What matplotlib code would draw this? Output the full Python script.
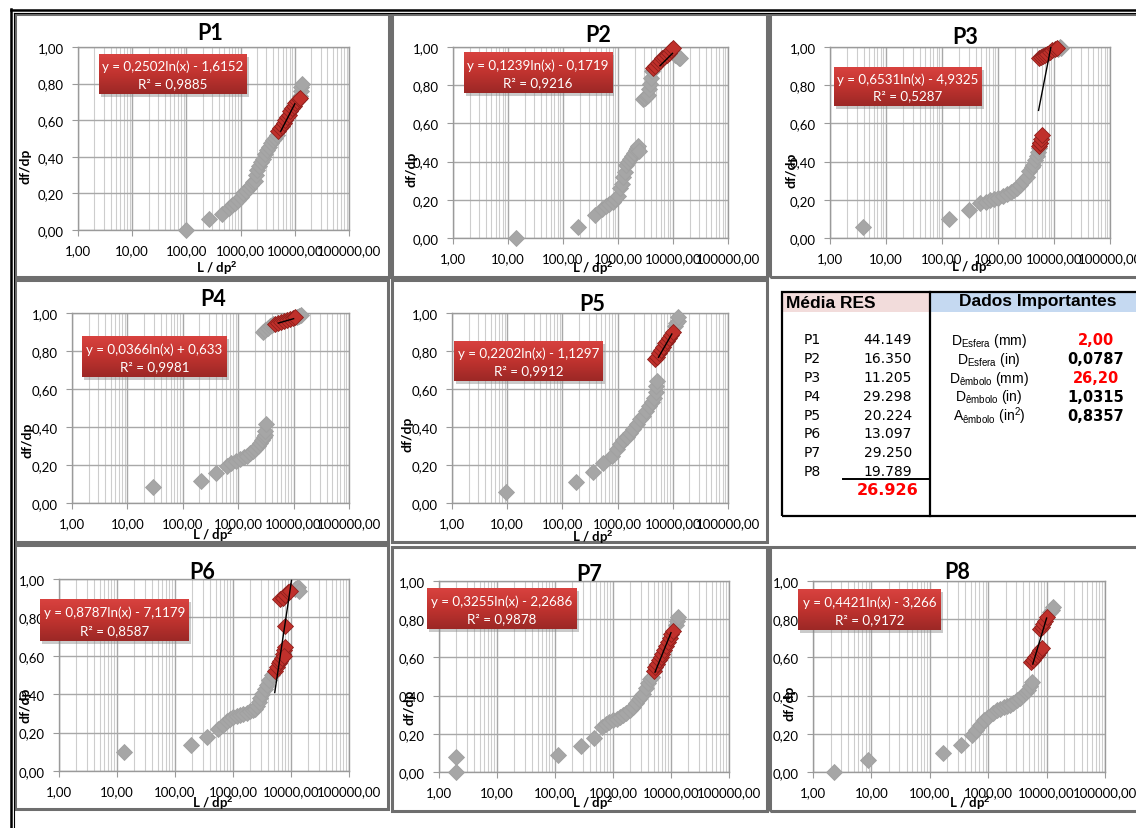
import matplotlib
matplotlib.use('Agg')
import matplotlib.pyplot as plt
import numpy as np
from matplotlib.patches import Rectangle
from matplotlib.lines import Line2D
from matplotlib.colors import LinearSegmentedColormap
from matplotlib.ticker import FixedLocator, FixedFormatter, NullFormatter, LogLocator

W, H = 1136, 829
plt.rcParams['mathtext.fontset'] = 'custom'
plt.rcParams['mathtext.rm'] = 'Liberation Sans'
plt.rcParams['mathtext.it'] = 'Liberation Sans:italic'
plt.rcParams['mathtext.bf'] = 'Liberation Sans:bold'

# ---------------- data ----------------
x_ticks = [1, 10, 100, 1000, 10000, 100000]
x_tick_labels = ['1,00', '10,00', '100,00', '1000,00', '10000,00', '100000,00']
y_ticks = [0.0, 0.2, 0.4, 0.6, 0.8, 1.0]
y_tick_labels = ['0,00', '0,20', '0,40', '0,60', '0,80', '1,00']
titles = ['P1', 'P2', 'P3', 'P4', 'P5', 'P6', 'P7', 'P8']

p1_gray_x = [97, 265, 447, 600, 700, 800, 900, 1000, 1120, 1250, 1400, 1550, 1700, 1850, 1950, 2000, 2150, 2350, 2600, 2850, 3100, 3400, 3700, 4000, 4350, 4700, 12500, 12800, 13000, 13300]
p1_gray_y = [0.00, 0.06, 0.085, 0.12, 0.135, 0.15, 0.165, 0.18, 0.20, 0.215, 0.23, 0.245, 0.26, 0.27, 0.30, 0.33, 0.35, 0.37, 0.39, 0.415, 0.435, 0.455, 0.475, 0.49, 0.505, 0.52, 0.73, 0.76, 0.78, 0.80]
p1_red_x = [5000, 5400, 5800, 6200, 6700, 7200, 7700, 8300, 8900, 9600, 10300, 11000, 11800, 12500]
p1_red_y = [0.54, 0.555, 0.57, 0.585, 0.60, 0.615, 0.63, 0.65, 0.665, 0.68, 0.695, 0.705, 0.715, 0.72]
p1_coef = (0.2502, -1.6152)
p1_trend = (5500, 10000)
p1_eq = ['y = 0,2502ln(x) - 1,6152', 'R² = 0,9885']

p2_gray_x = [13.8, 190, 380, 520, 600, 700, 800, 900, 1000, 1100, 1170, 1250, 1340, 1420, 1500, 1650, 1800, 1950, 2100, 2250, 2350, 2450, 2850, 3100, 3350, 3550, 3700, 3800, 3950, 4070, 11000, 12000, 13000, 13500]
p2_gray_y = [0.0, 0.06, 0.12, 0.15, 0.165, 0.18, 0.19, 0.205, 0.22, 0.26, 0.285, 0.32, 0.345, 0.38, 0.40, 0.415, 0.43, 0.445, 0.46, 0.47, 0.48, 0.455, 0.73, 0.735, 0.745, 0.75, 0.78, 0.805, 0.84, 0.875, 0.96, 0.955, 0.945, 0.94]
p2_red_x = [4350, 4800, 5300, 5800, 6400, 7000, 7700, 8500, 9300, 10000]
p2_red_y = [0.89, 0.90, 0.915, 0.925, 0.94, 0.95, 0.96, 0.97, 0.985, 0.995]
p2_coef = (0.1239, -0.1719)
p2_trend = (5800, 9800)
p2_eq = ['y = 0,1239ln(x) - 0,1719', 'R² = 0,9216']

p3_gray_x = [3.9, 135, 308, 478, 600, 720, 850, 1000, 1240, 1450, 1700, 1950, 2150, 2450, 2800, 3240, 3600, 4000, 4280, 4600, 4900, 5200, 5500, 12000, 12800, 13500]
p3_gray_y = [0.06, 0.10, 0.145, 0.183, 0.19, 0.20, 0.205, 0.21, 0.22, 0.23, 0.24, 0.25, 0.26, 0.28, 0.30, 0.32, 0.35, 0.37, 0.38, 0.41, 0.43, 0.45, 0.47, 0.99, 1.0, 0.995]
p3_red_x = [5500, 5600, 5700, 5800, 6000, 5400, 5800, 6300, 6900, 7600, 8400, 9300, 10300, 11200]
p3_red_y = [0.48, 0.495, 0.50, 0.52, 0.54, 0.94, 0.95, 0.955, 0.96, 0.965, 0.975, 0.985, 0.99, 0.995]
p3_coef = (0.6531, -4.9325)
p3_trend = (5300, 11200)
p3_eq = ['y = 0,6531ln(x) - 4,9325', 'R² = 0,5287']

p4_gray_x = [29, 210, 398, 620, 750, 900, 1070, 1250, 1430, 1630, 1850, 2050, 2300, 2500, 2700, 2900, 3020, 3100, 3140, 2850, 3100, 3400, 3700, 4000, 4300, 11500, 12500, 13500]
p4_gray_y = [0.083, 0.117, 0.158, 0.196, 0.21, 0.22, 0.23, 0.24, 0.25, 0.262, 0.275, 0.285, 0.30, 0.315, 0.33, 0.345, 0.36, 0.38, 0.415, 0.90, 0.91, 0.92, 0.93, 0.935, 0.94, 0.978, 0.985, 0.99]
p4_red_x = [4600, 5200, 5900, 6700, 7600, 8600, 9600, 10600]
p4_red_y = [0.942, 0.947, 0.952, 0.957, 0.962, 0.967, 0.972, 0.977]
p4_coef = (0.0366, 0.633)
p4_trend = (5300, 10000)
p4_eq = ['y = 0,0366ln(x) + 0,633', 'R² = 0,9981']

p5_gray_x = [9.5, 174, 355, 550, 780, 960, 1100, 1260, 1450, 1650, 1910, 2200, 2550, 2930, 3300, 3700, 4150, 4500, 4900, 5050, 5100, 10800, 11500, 12200, 12600]
p5_gray_y = [0.06, 0.11, 0.165, 0.21, 0.245, 0.284, 0.31, 0.33, 0.35, 0.37, 0.39, 0.415, 0.44, 0.46, 0.485, 0.51, 0.53, 0.555, 0.585, 0.615, 0.644, 0.93, 0.945, 0.96, 0.977]
p5_red_x = [4780, 5200, 5700, 6200, 6700, 7300, 8000, 8700, 9400, 10200]
p5_red_y = [0.758, 0.77, 0.79, 0.805, 0.82, 0.84, 0.855, 0.87, 0.885, 0.898]
p5_coef = (0.2202, -1.1297)
p5_trend = (5500, 9600)
p5_eq = ['y = 0,2202ln(x) - 1,1297', 'R² = 0,9912']

p6_gray_x = [13.4, 187, 353, 560, 660, 775, 900, 1020, 1150, 1300, 1500, 1720, 1950, 2200, 2400, 2600, 2800, 2930, 3200, 3500, 3800, 4200, 4650, 11500, 12500, 13400, 14000]
p6_gray_y = [0.097, 0.137, 0.175, 0.219, 0.24, 0.26, 0.27, 0.28, 0.284, 0.29, 0.295, 0.30, 0.31, 0.32, 0.325, 0.34, 0.36, 0.38, 0.40, 0.425, 0.45, 0.475, 0.50, 0.95, 0.955, 0.96, 0.94]
p6_red_x = [5300, 5700, 6100, 6500, 6900, 7300, 7600, 7900, 7500, 7960, 6500, 7200, 8000, 8800, 9600]
p6_red_y = [0.52, 0.54, 0.56, 0.575, 0.59, 0.61, 0.63, 0.645, 0.60, 0.757, 0.895, 0.90, 0.915, 0.93, 0.94]
p6_coef = (0.8787, -7.1179)
p6_trend = (5250, 10200)
p6_eq = ['y = 0,8787ln(x) - 7,1179', 'R² = 0,8587']

p7_gray_x = [2.0, 2.0, 114, 276, 470, 635, 750, 870, 1000, 1150, 1300, 1500, 1700, 1950, 2220, 2500, 2800, 3100, 3330, 3650, 4000, 4300, 4630, 12000, 12800, 13400]
p7_gray_y = [0.077, 0.0, 0.089, 0.134, 0.18, 0.237, 0.25, 0.26, 0.27, 0.28, 0.29, 0.30, 0.31, 0.325, 0.34, 0.36, 0.38, 0.40, 0.41, 0.44, 0.465, 0.485, 0.50, 0.77, 0.79, 0.81]
p7_red_x = [5000, 5300, 5700, 6100, 6600, 7100, 7600, 8200, 8800, 9500, 10200, 10800]
p7_red_y = [0.53, 0.548, 0.565, 0.585, 0.60, 0.62, 0.64, 0.66, 0.68, 0.70, 0.72, 0.74]
p7_coef = (0.3255, -2.2686)
p7_trend = (5300, 10000)
p7_eq = ['y = 0,3255ln(x) - 2,2686', 'R² = 0,9878']

p8_gray_x = [2.3, 8.9, 166, 338, 535, 620, 720, 850, 1000, 1200, 1400, 1580, 1850, 2100, 2350, 2700, 3100, 3500, 4000, 4500, 4850, 5200, 5550, 11500, 12300, 13000]
p8_gray_y = [0.0, 0.063, 0.098, 0.143, 0.195, 0.22, 0.245, 0.27, 0.29, 0.31, 0.325, 0.33, 0.34, 0.345, 0.353, 0.36, 0.375, 0.39, 0.405, 0.42, 0.43, 0.45, 0.47, 0.84, 0.85, 0.862]
p8_red_x = [5500, 5900, 6300, 6800, 7300, 7800, 8250, 7700, 8200, 8700, 9300, 10000]
p8_red_y = [0.574, 0.585, 0.60, 0.615, 0.63, 0.64, 0.65, 0.749, 0.76, 0.775, 0.79, 0.81]
p8_coef = (0.4421, -3.266)
p8_trend = (5800, 10000)
p8_eq = ['y = 0,4421ln(x) - 3,266', 'R² = 0,9172']

table_labels = ['P1', 'P2', 'P3', 'P4', 'P5', 'P6', 'P7', 'P8']
table_values = ['44.149', '16.350', '11.205', '29.298', '20.224', '13.097', '29.250', '19.789']
table_total = '26.926'
dados_labels = [r'D$_{\mathrm{Esfera}}$ (mm)', r'D$_{\mathrm{Esfera}}$ (in)',
                r'D$_{\mathrm{êmbolo}}$ (mm)', r'D$_{\mathrm{êmbolo}}$ (in)',
                r'A$_{\mathrm{êmbolo}}$ (in$^{2}$)']
dados_values = ['2,00', '0,0787', '26,20', '1,0315', '0,8357']
dados_red = [True, False, True, False, False]

panels = [
    (p1_gray_x, p1_gray_y, p1_red_x, p1_red_y, p1_coef, p1_trend, p1_eq),
    (p2_gray_x, p2_gray_y, p2_red_x, p2_red_y, p2_coef, p2_trend, p2_eq),
    (p3_gray_x, p3_gray_y, p3_red_x, p3_red_y, p3_coef, p3_trend, p3_eq),
    (p4_gray_x, p4_gray_y, p4_red_x, p4_red_y, p4_coef, p4_trend, p4_eq),
    (p5_gray_x, p5_gray_y, p5_red_x, p5_red_y, p5_coef, p5_trend, p5_eq),
    (p6_gray_x, p6_gray_y, p6_red_x, p6_red_y, p6_coef, p6_trend, p6_eq),
    (p7_gray_x, p7_gray_y, p7_red_x, p7_red_y, p7_coef, p7_trend, p7_eq),
    (p8_gray_x, p8_gray_y, p8_red_x, p8_red_y, p8_coef, p8_trend, p8_eq),
]

# ---------------- layout (pixels) ----------------
axes_px = [(78, 48, 349, 231), (453, 48, 728, 239), (830, 48, 1110, 239),
           (72, 314, 349, 504), (452, 314, 728, 504),
           (59, 580, 349, 772), (439, 582, 729, 773), (813, 582, 1105, 773)]
title_px = [(210, 33), (598, 35), (965, 37), (213, 300), (592, 305), (202, 573), (589, 575), (957, 573)]
ylab_px = [(25, 166), (412, 169), (792, 170), (28, 440), (408, 434), (25, 705), (410, 707), (790, 703)]
xlab_px = [(217, 268), (593, 268), (972, 267), (213, 535), (593, 537), (213, 803), (593, 803), (970, 803)]
box_px = [(99, 55, 247, 95), (464, 53, 612, 94), (834, 68, 982, 107), (82, 337, 227, 378),
          (454, 342, 603, 382), (40, 600, 189, 642), (427, 589, 577, 630), (798, 590, 941, 631)]
frame_px = [(15, 15, 389, 278), (392, 15, 767, 278), (770, 15, 1142, 278),
            (15, 281, 388, 543), (392, 281, 767, 543),
            (15, 546, 388, 810), (392, 548, 767, 812), (770, 548, 1142, 812)]

fig = plt.figure(figsize=(W / 100, H / 100), dpi=100)
fig.patch.set_facecolor('white')


def fx(x):
    return x / W


def fy(y):
    return 1 - y / H


def rect(l, t, r, b):
    return [fx(l), fy(b), (r - l) / W, (b - t) / H]


FONT = 'Lato'
red_cmap = LinearSegmentedColormap.from_list('redgrad', ['#9c2826', '#c0332f', '#d8423f'])

for i, (gx, gy, rx, ry, coef, trend, eq) in enumerate(panels):
    # chart frame
    l, t, r, b = frame_px[i]
    fig.patches.append(Rectangle((fx(l), fy(b)), (r - l) / W, (b - t) / H, transform=fig.transFigure,
                                 fill=False, edgecolor='#6e6e6e', linewidth=2.2, zorder=1))
    ax = fig.add_axes(rect(*axes_px[i]), zorder=2)
    ax.set_xscale('log')
    ax.set_xlim(1, 100000)
    ax.set_ylim(0, 1)
    ax.xaxis.set_major_locator(FixedLocator(x_ticks))
    ax.xaxis.set_major_formatter(FixedFormatter(x_tick_labels))
    ax.xaxis.set_minor_locator(LogLocator(base=10, subs=np.arange(2, 10)))
    ax.xaxis.set_minor_formatter(NullFormatter())
    ax.yaxis.set_major_locator(FixedLocator(y_ticks))
    ax.yaxis.set_major_formatter(FixedFormatter(y_tick_labels))
    ax.grid(which='minor', axis='x', color='#cdcdcd', linewidth=0.8)
    ax.grid(which='major', axis='x', color='#a8a8a8', linewidth=1.0)
    ax.grid(which='major', axis='y', color='#a8a8a8', linewidth=1.0)
    ax.set_axisbelow(True)
    for s in ax.spines.values():
        s.set_color('#9a9a9a')
        s.set_linewidth(1.0)
    ax.tick_params(axis='both', which='major', labelsize=9.5, color='#9a9a9a', length=4)
    ax.tick_params(axis='x', which='minor', length=0)
    ax.tick_params(axis='y', pad=6)
    ax.tick_params(axis='x', pad=6)
    for lab in ax.get_xticklabels() + ax.get_yticklabels():
        lab.set_fontfamily(FONT)

    ax.plot(gx, gy, linestyle='none', marker='D', markersize=8.5, color='#a6a6a6',
            markeredgecolor='#a0a0a0', markeredgewidth=0.6, clip_on=False, zorder=3)
    ax.plot(rx, ry, linestyle='none', marker='D', markersize=8.5, color='#c0302b',
            markeredgecolor='#8e1f1c', markeredgewidth=0.6, clip_on=False, zorder=4)
    tx = np.array(trend, dtype=float)
    tx = np.geomspace(tx[0], tx[1], 30)
    ty = coef[0] * np.log(tx) + coef[1]
    ax.plot(tx, ty, color='black', linewidth=1.0, zorder=5)

    # labels
    fig.text(fx(title_px[i][0]), fy(title_px[i][1]), titles[i], ha='center', va='center',
             fontsize=15.5, fontweight='bold', family=FONT, zorder=6)
    fig.text(fx(ylab_px[i][0]), fy(ylab_px[i][1]), 'df/dp', ha='center', va='center', rotation=90,
             fontsize=10, fontweight='bold', family=FONT, zorder=6)
    fig.text(fx(xlab_px[i][0]), fy(xlab_px[i][1]), 'L / dp$^{\\mathbf{2}}$', ha='center', va='center',
             fontsize=9.5, fontweight='bold', family=FONT, zorder=6)

    # equation box
    bl, bt, br, bb = box_px[i]
    fig.patches.append(Rectangle((fx(bl + 2), fy(bb + 3)), (br - bl) / W, (bb - bt) / H,
                                 transform=fig.transFigure, facecolor='#8a8a8a', alpha=0.45,
                                 edgecolor='none', zorder=7))
    bax = fig.add_axes(rect(bl, bt, br, bb), zorder=8)
    grad = np.linspace(0, 1, 64).reshape(-1, 1)
    bax.imshow(grad, aspect='auto', cmap=red_cmap, extent=[0, 1, 0, 1], origin='lower')
    bax.set_xlim(0, 1)
    bax.set_ylim(0, 1)
    bax.axis('off')
    bax.text(0.5, 0.70, eq[0], ha='center', va='center', color='white', fontsize=9.6, family=FONT)
    bax.text(0.5, 0.27, eq[1], ha='center', va='center', color='white', fontsize=9.6, family=FONT)

# outer black frame lines
fig.add_artist(Line2D([fx(11), fx(11)], [fy(10), fy(829)], color='black', linewidth=1.8, transform=fig.transFigure))
fig.add_artist(Line2D([fx(11), fx(1136)], [fy(11), fy(11)], color='black', linewidth=1.8, transform=fig.transFigure))
fig.add_artist(Line2D([fx(14), fx(14)], [fy(14), fy(829)], color='black', linewidth=0.8, transform=fig.transFigure))
fig.add_artist(Line2D([fx(14), fx(1136)], [fy(14), fy(14)], color='black', linewidth=0.8, transform=fig.transFigure))

# ---------------- table ----------------
TL, TT, TR, TB, TD = 782, 293, 1140, 517, 930
fig.patches.append(Rectangle((fx(TL), fy(313)), (TD - TL) / W, 20 / H, transform=fig.transFigure,
                             facecolor='#f2dcdb', edgecolor='none', zorder=1))
fig.patches.append(Rectangle((fx(TD), fy(313)), (TR - TD) / W, 20 / H, transform=fig.transFigure,
                             facecolor='#c5d9f1', edgecolor='none', zorder=1))
fig.patches.append(Rectangle((fx(TL), fy(TB)), (TR - TL) / W, (TB - TT) / H, transform=fig.transFigure,
                             fill=False, edgecolor='black', linewidth=1.6, zorder=2))
fig.add_artist(Line2D([fx(TD), fx(TD)], [fy(TT), fy(TB)], color='black', linewidth=1.6, transform=fig.transFigure))
fig.add_artist(Line2D([fx(843), fx(TD)], [fy(480), fy(480)], color='black', linewidth=1.4, transform=fig.transFigure))

fig.text(fx(786), fy(303), 'Média RES', ha='left', va='center', fontsize=12.5, fontweight='bold',
         family='Liberation Sans')
fig.text(fx(1038), fy(302), 'Dados Importantes', ha='center', va='center', fontsize=12.5, fontweight='bold',
         family='Liberation Sans')
for k, (lab, val) in enumerate(zip(table_labels, table_values)):
    yy = 340 + k * 18.9
    fig.text(fx(804), fy(yy), lab, ha='left', va='center', fontsize=10, family='DejaVu Sans')
    fig.text(fx(912), fy(yy), val, ha='right', va='center', fontsize=10, family='DejaVu Sans')
fig.text(fx(918), fy(491), table_total, ha='right', va='center', fontsize=11.5, fontweight='bold',
         color='#ff0000', family='DejaVu Sans')
for k, (lab, val, isred) in enumerate(zip(dados_labels, dados_values, dados_red)):
    yy = 341 + k * 18.8
    fig.text(fx(989), fy(yy), lab, ha='center', va='center', fontsize=10, family='Liberation Sans')
    fig.text(fx(1096), fy(yy), val, ha='center', va='center', fontsize=10.5, fontweight='bold',
             color='#ff0000' if isred else 'black', family='DejaVu Sans')

fig.savefig('out.png', dpi=100)
